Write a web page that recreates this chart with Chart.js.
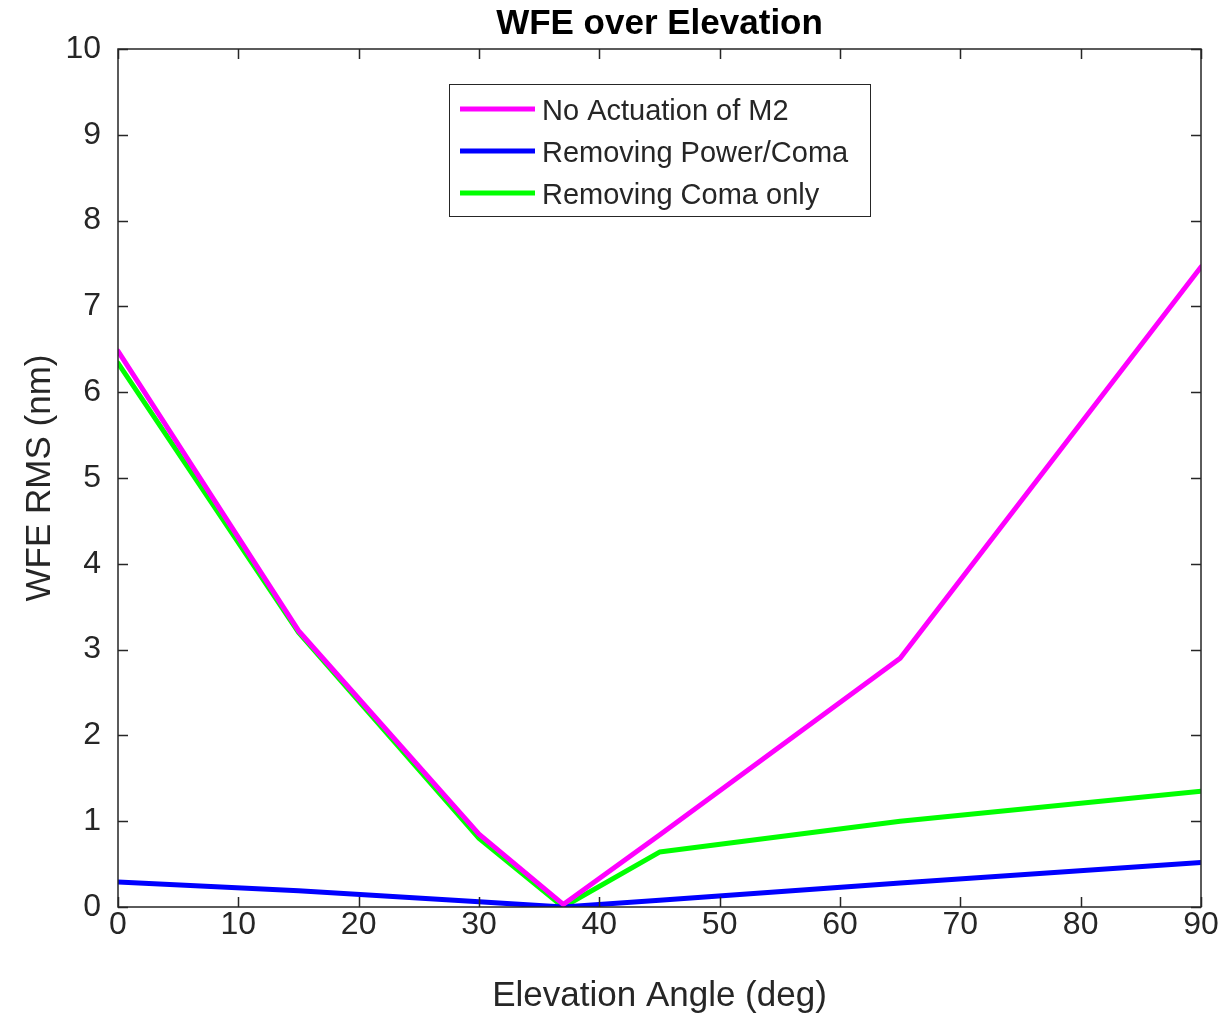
<!DOCTYPE html>
<html>
<head>
<meta charset="utf-8">
<script src="https://cdn.jsdelivr.net/npm/chart.js@4.4.1/dist/chart.umd.min.js"></script>
<style>
  html, body { margin: 0; padding: 0; background: #fff; }
  #wrap { width: 1230px; height: 1023px; }
</style>
</head>
<body>
<div id="wrap"><canvas id="c" width="1230" height="1023"></canvas></div>
<script>
// ---- data ----
const elevation = [0, 15, 30, 37, 45, 65, 90];
const noActuation = [6.48, 3.22, 0.85, 0.03, 0.84, 2.90, 7.46];
const removingPowerComa = [0.29, 0.19, 0.06, 0.0, 0.08, 0.28, 0.52];
const removingComaOnly = [6.34, 3.20, 0.80, 0.0, 0.64, 1.00, 1.35];
const seriesLabels = ['No Actuation of M2', 'Removing Power/Coma', 'Removing Coma only'];
const xTicks = [0, 10, 20, 30, 40, 50, 60, 70, 80, 90];
const yTicks = [0, 1, 2, 3, 4, 5, 6, 7, 8, 9, 10];

const FONT = '"Liberation Sans", Arial, Helvetica, sans-serif';
const AX = '#262626';

function pts(xs, ys) { return xs.map((x, i) => ({ x: x, y: ys[i] })); }

const boxTicks = {
  id: 'boxTicks',
  afterDatasetsDraw(chart) {
    const { ctx, chartArea: a, scales } = chart;
    ctx.save();
    ctx.strokeStyle = AX;
    ctx.lineWidth = 1.5;
    ctx.beginPath();
    const L = 10;
    xTicks.forEach(v => {
      const px = Math.round(scales.x.getPixelForValue(v)) + 0.5;
      ctx.moveTo(px, a.bottom); ctx.lineTo(px, a.bottom - L);
      ctx.moveTo(px, a.top); ctx.lineTo(px, a.top + L);
    });
    yTicks.forEach(v => {
      const py = Math.round(scales.y.getPixelForValue(v)) + 0.5;
      ctx.moveTo(a.left, py); ctx.lineTo(a.left + L, py);
      ctx.moveTo(a.right, py); ctx.lineTo(a.right - L, py);
    });
    ctx.stroke();
    ctx.strokeRect(a.left, a.top, a.right - a.left, a.bottom - a.top);
    ctx.restore();
  }
};

const insideLegend = {
  id: 'insideLegend',
  afterDraw(chart) {
    const { ctx } = chart;
    const bx = 449, by = 84, bw = 421, bh = 132;
    ctx.save();
    ctx.fillStyle = '#fff';
    ctx.fillRect(bx, by, bw, bh);
    ctx.strokeStyle = AX;
    ctx.lineWidth = 1;
    ctx.strokeRect(bx + 0.5, by + 0.5, bw, bh);
    ctx.font = '29px ' + FONT;
    ctx.textBaseline = 'middle';
    ctx.textAlign = 'left';
    chart.data.datasets.forEach((ds, i) => {
      const y = 109 + i * 42;
      ctx.strokeStyle = ds.borderColor;
      ctx.lineWidth = 5;
      ctx.beginPath();
      ctx.moveTo(460, y); ctx.lineTo(535, y);
      ctx.stroke();
      ctx.fillStyle = AX;
      ctx.fillText(ds.label, 542, y + 3);
    });
    ctx.restore();
  }
};

new Chart(document.getElementById('c'), {
  type: 'line',
  data: {
    datasets: [
      { label: seriesLabels[0], data: pts(elevation, noActuation), borderColor: '#ff00ff' },
      { label: seriesLabels[1], data: pts(elevation, removingPowerComa), borderColor: '#0000ff' },
      { label: seriesLabels[2], data: pts(elevation, removingComaOnly), borderColor: '#00ff00' }
    ]
  },
  options: {
    responsive: false,
    animation: false,
    devicePixelRatio: 1,
    layout: { padding: { left: 0, right: 29, top: 0, bottom: 0 } },
    elements: {
      line: { borderWidth: 5, tension: 0, borderCapStyle: 'round', borderJoinStyle: 'round' },
      point: { radius: 0, hoverRadius: 0 }
    },
    plugins: {
      legend: { display: false },
      tooltip: { enabled: false },
      title: {
        display: true,
        fullSize: false,
        text: 'WFE over Elevation',
        color: '#000',
        font: { family: FONT, size: 35, weight: 'bold', lineHeight: 1.2 },
        padding: { top: 3, bottom: 4 }
      }
    },
    scales: {
      x: {
        type: 'linear',
        min: 0, max: 90,
        afterFit(s) { s.height = 116; },
        afterBuildTicks(s) { s.ticks = xTicks.map(v => ({ value: v })); },
        grid: { display: false },
        border: { display: false },
        ticks: { color: AX, font: { family: FONT, size: 32 }, padding: -9, maxRotation: 0, autoSkip: false },
        title: {
          display: true, text: 'Elevation Angle (deg)', color: AX,
          font: { family: FONT, size: 35, lineHeight: 1.2 },
          padding: { top: 0, bottom: 6 }
        }
      },
      y: {
        type: 'linear',
        min: 0, max: 10,
        afterFit(s) { s.width = 118; },
        afterBuildTicks(s) { s.ticks = yTicks.map(v => ({ value: v })); },
        grid: { display: false },
        border: { display: false },
        ticks: { color: AX, font: { family: FONT, size: 32 }, padding: 9, autoSkip: false },
        title: {
          display: true, text: 'WFE RMS (nm)', color: AX,
          font: { family: FONT, size: 35, lineHeight: 1.2 },
          padding: { top: 19, bottom: 0 }
        }
      }
    }
  },
  plugins: [boxTicks, insideLegend]
});
</script>
</body>
</html>
